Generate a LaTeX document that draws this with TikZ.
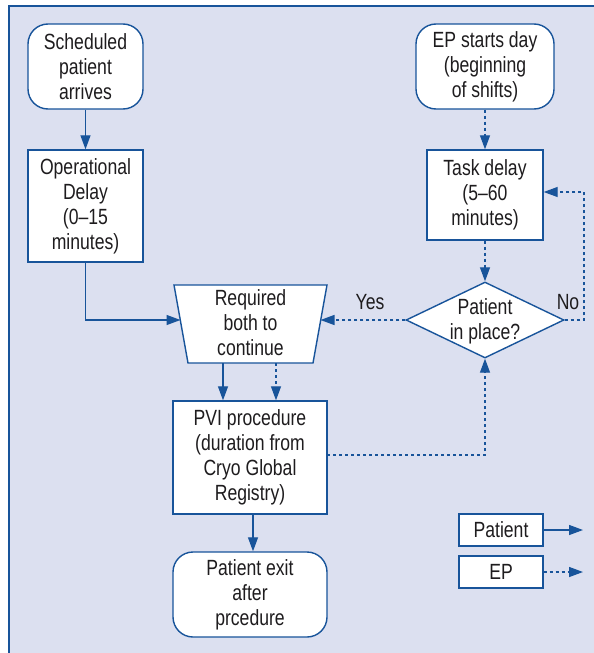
\documentclass[tikz,border=0pt]{standalone}
\usepackage{fontspec}
\setmainfont[FakeStretch=0.8]{Liberation Sans}
\usetikzlibrary{arrows.meta,shapes.geometric}
\definecolor{lblue}{RGB}{24,84,154}
\definecolor{bgc}{RGB}{220,224,240}
\definecolor{txtc}{RGB}{30,28,30}
\begin{document}
\begin{tikzpicture}[x=1pt,y=-1pt,
  every node/.style={font=\fontsize{22}{25}\selectfont, text=txtc, align=center},
  box/.style={draw=lblue, line width=1.4pt, fill=white, inner sep=0pt},
  rbox/.style={box, rounded corners=20pt},
  patarrow/.style={draw=lblue, line width=1.3pt, -{Triangle[length=14pt,width=10pt]}},
  eparrow/.style={patarrow, dash pattern=on 3pt off 3pt},
  lbl/.style={inner sep=0pt}]
\useasboundingbox (0,0) rectangle (594,653);
\fill[bgc] (9,6) rectangle (600,660);
\draw[lblue, line width=1.4pt] (9,660) -- (9,6) -- (600,6);

\node[rbox, minimum width=115pt, minimum height=85pt] (sched) at (85.5,66.5) {Scheduled\\patient\\arrives};
\node[box, minimum width=115pt, minimum height=112pt] (opd) at (85.5,206) {Operational\\Delay\\(0--15\\minutes)};
\node[rbox, minimum width=138pt, minimum height=85pt] (epday) at (485,66.5) {EP starts day\\(beginning\\of shifts)};
\node[box, minimum width=116pt, minimum height=90pt] (task) at (485,195) {Task delay\\(5--60\\minutes)};
\node[box, diamond, aspect=2.08, minimum width=158pt, minimum height=76pt] (dia) at (485,320) {};
\node[lbl] (dialbl) at (485,321) {Patient\\in place?};

% trapezoid (wider at top)
\coordinate (reqTL) at (174,285);
\coordinate (reqTR) at (327,285);
\coordinate (reqBR) at (313,363);
\coordinate (reqBL) at (188,363);
\draw[box] (reqTL) -- (reqTR) -- (reqBR) -- (reqBL) -- cycle;
\node[lbl] (reqlbl) at (250.5,323) {Required\\both to\\continue};
\coordinate (reqL) at (180.5,320);
\coordinate (reqR) at (320.5,320);
\coordinate (reqB1) at (223,363);
\coordinate (reqB2) at (276,363);

\node[box, minimum width=154pt, minimum height=113pt] (pvi) at (250,457.5) {PVI procedure\\(duration from\\Cryo Global\\Registry)};
\node[rbox, minimum width=154pt, minimum height=85pt] (exit) at (250,594.5) {Patient exit\\after\\prcedure};

\node[box, minimum width=84pt, minimum height=32pt] (legp) at (501,530) {Patient};
\node[box, minimum width=84pt, minimum height=32pt] (lege) at (501,572) {EP};
\coordinate (legpend) at (583,530);
\coordinate (legeend) at (583,572);

\node[lbl] (yes) at (370,302) {Yes};
\node[lbl] (no) at (568,302) {No};

\draw[patarrow] (sched) -- (opd);
\draw[patarrow] (opd.south) |- (reqL);
\draw[eparrow] (epday) -- (task);
\draw[eparrow] (task) -- (dia.north);
\draw[eparrow] (dia.west) -- (reqR);
\coordinate (nocorner) at (584,192);
\draw[eparrow] (dia.east) -| (nocorner) -- (task.east |- nocorner);
\draw[patarrow] (reqB1) -- (pvi.north -| reqB1);
\draw[eparrow] (reqB2) -- (pvi.north -| reqB2);
\coordinate (exitin) at (253,514);
\draw[patarrow] (exitin) -- (exit.north -| exitin);
\coordinate (pviout) at (327,455);
\draw[eparrow] (pviout) -| (dia.south);
\draw[patarrow] (legp.east) -- (legpend);
\draw[eparrow] (lege.east) -- (legeend);
\end{tikzpicture}
\end{document}
